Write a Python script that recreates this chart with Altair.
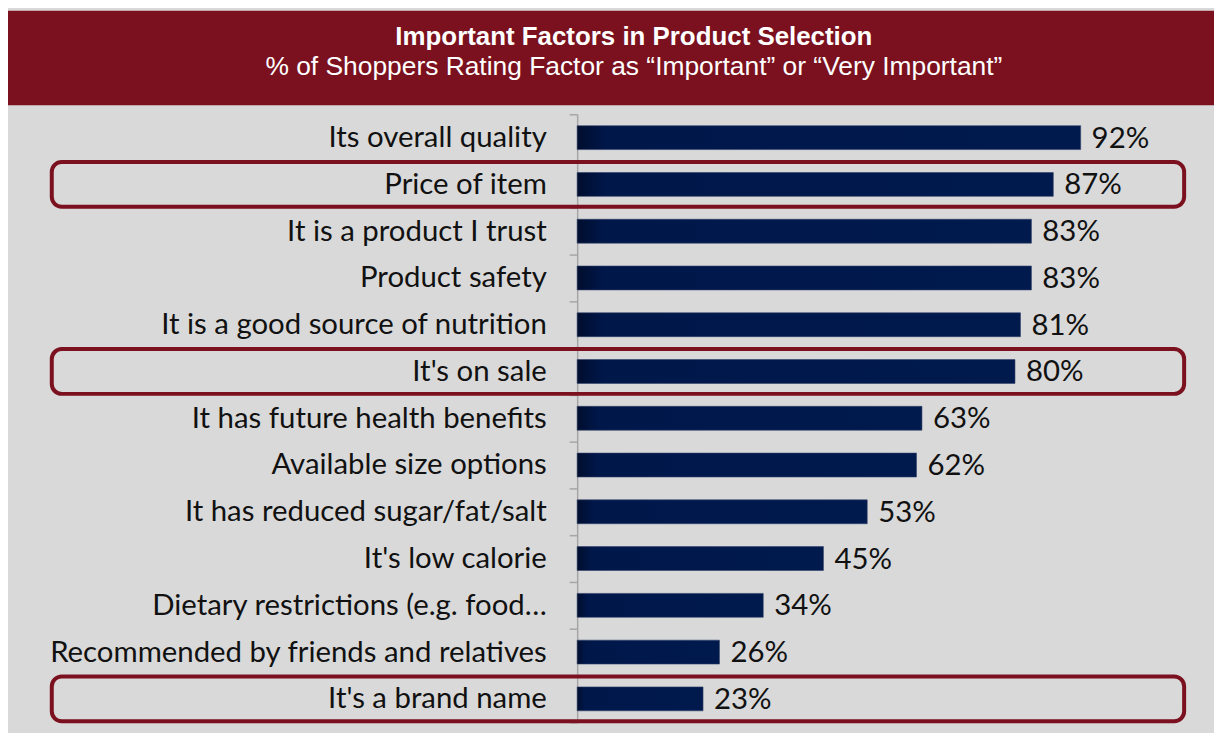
import altair as alt
import pandas as pd

categories = [
    "Its overall quality",
    "Price of item",
    "It is a product I trust",
    "Product safety",
    "It is a good source of nutrition",
    "It's on sale",
    "It has future health benefits",
    "Available size options",
    "It has reduced sugar/fat/salt",
    "It's low calorie",
    "Dietary restrictions (e.g. food…",
    "Recommended by friends and relatives",
    "It's a brand name",
]
values = [92, 87, 83, 83, 81, 80, 63, 62, 53, 45, 34, 26, 23]
highlighted = ["Price of item", "It's on sale", "It's a brand name"]

title_text = "Important Factors in Product Selection"
subtitle_text = "% of Shoppers Rating Factor as \u201cImportant\u201d or \u201cVery Important\u201d"

df = pd.DataFrame({"factor": categories, "value": values})
df["label"] = [f"{v}%" for v in values]
hl = pd.DataFrame({"factor": highlighted})

RED = "#7B111E"
NAVY = "#001A4D"
LABEL_FONT = "Lato"
LABEL_SIZE = 29.5

yscale = alt.Scale(domain=categories, paddingInner=0, paddingOuter=0)
xscale = alt.Scale(domain=[0, 100])

y_axis = alt.Axis(
    title=None,
    domainColor="#A6A6A6",
    domainWidth=1.5,
    tickColor="#A6A6A6",
    tickWidth=1.5,
    tickSize=8,
    tickBand="extent",
    labelFont=LABEL_FONT,
    labelFontSize=LABEL_SIZE,
    labelColor="#111111",
    labelPadding=23,
    labelLimit=1000,
    labelAlign="right",
)

base = alt.Chart(df)

bars = base.mark_bar(
    size=24,
    color=alt.Gradient(
        gradient="linear",
        x1=0, x2=1, y1=0, y2=0,
        stops=[
            alt.GradientStop(color="#000E2E", offset=0),
            alt.GradientStop(color="#00174A", offset=0.06),
            alt.GradientStop(color=NAVY, offset=1),
        ],
    ),
    stroke="#31406A",
    strokeWidth=0.6,
).encode(
    y=alt.Y("factor:N", scale=yscale, axis=y_axis, sort=categories),
    x=alt.X("value:Q", scale=xscale, axis=None),
)

texts = base.mark_text(
    align="left", baseline="middle", dx=11, dy=1,
    font=LABEL_FONT, fontSize=LABEL_SIZE, color="#111111",
).encode(
    y=alt.Y("factor:N", scale=yscale, sort=categories),
    x=alt.X("value:Q", scale=xscale),
    text="label:N",
)

boxes = alt.Chart(hl).mark_bar(
    size=45, filled=False, stroke=RED, strokeWidth=4, cornerRadius=10, clip=False,
).encode(
    y=alt.Y("factor:N", scale=yscale, sort=categories),
    x=alt.value(-528),
    x2=alt.value(610),
)

one = alt.Chart(pd.DataFrame({"k": [0]}))
header = one.mark_rect(color=RED).encode(
    x=alt.value(-573), x2=alt.value(640),
    y=alt.value(-104), y2=alt.value(-9),
)
title = one.mark_text(
    text=title_text, font="Liberation Sans", fontWeight="bold", fontSize=26,
    color="white", align="center", baseline="alphabetic",
).encode(x=alt.value(57), y=alt.value(-70))
subtitle = one.mark_text(
    text=subtitle_text, font="Liberation Sans", fontSize=26.5,
    color="white", align="center", baseline="alphabetic",
).encode(x=alt.value(57), y=alt.value(-39))

chart = alt.layer(header, title, subtitle, bars, texts, boxes).properties(
    width=550,
    height=611,
    autosize=alt.AutoSizeParams(type="none"),
    padding={"left": 572, "right": 90, "top": 105, "bottom": 9},
    background="#D9D9D9",
).configure_view(stroke=None)

chart.save("out.html", embed_options={"renderer": "svg", "actions": False})
